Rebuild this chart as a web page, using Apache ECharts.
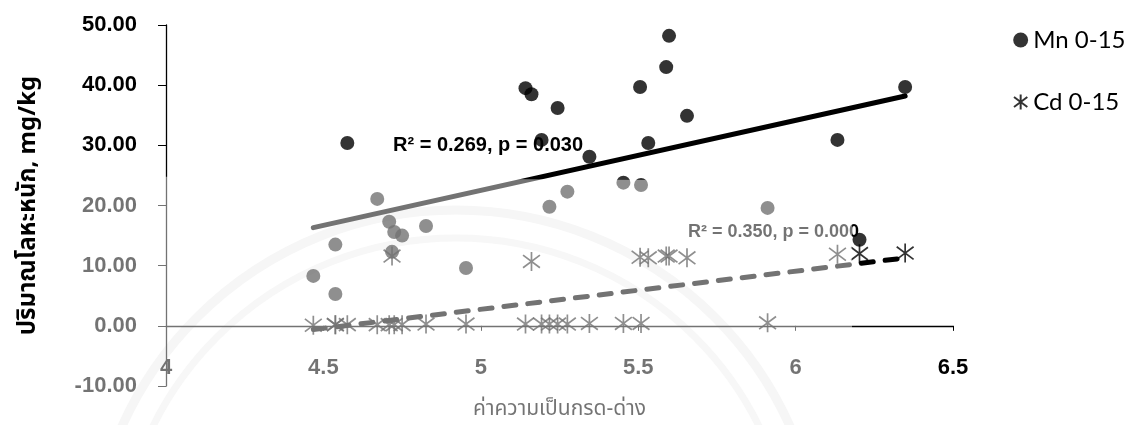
<!DOCTYPE html>
<html>
<head>
<meta charset="utf-8">
<script src="https://cdn.jsdelivr.net/npm/echarts@6/dist/echarts.min.js"></script>
<style>
html,body{margin:0;padding:0;background:#fff;}
#chart{width:1128px;height:425px;}
</style>
</head>
<body>
<div id="chart"></div>
<script>
// pH values (x) of the samples
const phValues = [4.468, 4.538, 4.538, 4.576, 4.671, 4.709, 4.718, 4.725, 4.750, 4.826, 4.953,
  5.142, 5.161, 5.193, 5.218, 5.244, 5.275, 5.345, 5.453, 5.506, 5.509, 5.532, 5.589, 5.598, 5.655,
  5.911, 6.133, 6.203, 6.348];
// Mn 0-15 (mg/kg)
const mnValues = [8.3, 5.3, 13.5, 30.4, 21.1, 17.3, 12.3, 15.6, 15.0, 16.6, 9.6,
  39.5, 38.5, 30.9, 19.8, 36.2, 22.3, 28.1, 23.8, 39.7, 23.4, 30.4, 43.0, 48.2, 34.9,
  19.6, 30.9, 14.3, 39.7];
// Cd 0-15 (mg/kg)
const cdValues = [0.1, 0.2, 0.2, 0.2, 0.2, 0.2, 11.6, 0.2, 0.2, 0.3, 0.3,
  0.3, 10.7, 0.3, 0.3, 0.3, 0.3, 0.4, 0.4, 11.4, 0.4, 11.3, 11.6, 11.6, 11.3,
  0.5, 11.9, 12.0, 12.1];
const seriesNames = ['Mn 0-15', 'Cd 0-15'];
const fitLabels = ['R\u00b2 = 0.269, p = 0.030', 'R\u00b2 = 0.350, p = 0.000'];
const xTickRange = [4, 6.5, 0.5];
const yTickRange = [-10, 50, 10];
const xTitle = 'ค่าความเป็นกรด-ด่าง';
const yTitle = 'ปริมาณโลหะหนัก, mg/kg';

function fit(xs, ys) {
  const n = xs.length;
  const mx = xs.reduce((a, b) => a + b, 0) / n;
  const my = ys.reduce((a, b) => a + b, 0) / n;
  let sxy = 0, sxx = 0;
  for (let i = 0; i < n; i++) { sxy += (xs[i] - mx) * (ys[i] - my); sxx += (xs[i] - mx) * (xs[i] - mx); }
  const b = sxy / sxx, a = my - b * mx;
  const x0 = Math.min(...xs), x1 = Math.max(...xs);
  return [[x0, a + b * x0], [x1, a + b * x1]];
}
const pairs = ys => phValues.map((x, i) => [x, ys[i]]);

const asterisk = 'path://M10,1L10,19M2,4L18,16M18,4L2,16';
const numFont = 'Liberation Sans';
const chart = echarts.init(document.getElementById('chart'));
chart.setOption({
  animation: false,
  backgroundColor: '#fff',
  grid: { left: 166, right: 175, top: 25, bottom: 39, containLabel: false, outerBoundsMode: 'none' },
  legend: {
    orient: 'vertical', left: 1008, top: 23, itemGap: 38, itemWidth: 15, itemHeight: 15,
    textStyle: { fontFamily: 'Lato', fontSize: 24, color: '#000' },
    data: [{ name: seriesNames[0], icon: 'circle' }, { name: seriesNames[1], icon: asterisk }]
  },
  xAxis: {
    type: 'value', min: xTickRange[0], max: xTickRange[1], interval: xTickRange[2],
    name: xTitle, nameLocation: 'middle', nameGap: 14,
    nameTextStyle: { fontFamily: 'Noto Sans Thai, Noto Sans, sans-serif', fontSize: 21, color: '#000' },
    axisLine: { onZero: true, lineStyle: { color: '#000', width: 1.3 } },
    axisTick: { show: true, length: 5, lineStyle: { color: '#000' } },
    axisLabel: { margin: -29, color: '#000', fontSize: 22, fontWeight: 'bold', fontFamily: numFont,
      formatter: v => String(v) },
    splitLine: { show: false }
  },
  yAxis: {
    type: 'value', min: yTickRange[0], max: yTickRange[1], interval: yTickRange[2],
    name: yTitle, nameLocation: 'middle', nameGap: 124, nameRotate: 90,
    nameTextStyle: { fontFamily: 'Noto Sans Thai, Noto Sans, sans-serif', fontSize: 24, fontWeight: 'bold', color: '#000' },
    axisLine: { show: true, lineStyle: { color: '#000', width: 1.3 } },
    axisTick: { show: true, length: 8, lineStyle: { color: '#000' } },
    axisLabel: { margin: 29, color: '#000', fontSize: 22, fontWeight: 'bold', fontFamily: numFont,
      formatter: v => v.toFixed(2) },
    splitLine: { show: false }
  },
  series: [
    { name: seriesNames[0], type: 'scatter', symbol: 'circle', symbolSize: 14, z: 3,
      itemStyle: { color: '#000' }, data: pairs(mnValues) },
    { name: seriesNames[1], type: 'scatter', symbol: asterisk, symbolSize: 19, symbolKeepAspect: true, z: 4,
      itemStyle: { color: 'rgba(0,0,0,0)', borderColor: '#000', borderWidth: 1.7 }, data: pairs(cdValues) },
    { name: 'fitMn', type: 'line', symbol: 'none', z: 5, silent: true,
      lineStyle: { color: '#000', width: 5, cap: 'round' }, data: fit(phValues, mnValues) },
    { name: 'fitCd', type: 'line', symbol: 'none', z: 5, silent: true,
      lineStyle: { color: '#000', width: 5, type: [12, 12], cap: 'round' }, data: fit(phValues, cdValues) }
  ],
  graphic: [
    { type: 'circle', z: -10, silent: true, shape: { cx: 456, cy: 576, r: 366 },
      style: { fill: 'none', stroke: '#eeeeee', lineWidth: 9 } },
    { type: 'circle', z: -10, silent: true, shape: { cx: 456, cy: 576, r: 338 },
      style: { fill: 'none', stroke: '#f0f0f0', lineWidth: 7 } },
    { type: 'text', z: 50, left: 393, top: 135, silent: true,
      style: { text: fitLabels[0], fontFamily: numFont, fontSize: 20, fontWeight: 'bold', fill: '#000' } },
    { type: 'text', z: 50, left: 688, top: 223, silent: true,
      style: { text: fitLabels[1], fontFamily: numFont, fontSize: 18, fontWeight: 'bold', fill: '#000' } },
    { type: 'polygon', z: 100, silent: true,
      shape: { points: [[55, 176], [645, 180], [770, 195], [852, 205], [852, 425], [55, 425]] },
      style: { fill: 'rgba(255,255,255,0.45)' } }
  ]
});
</script>
</body>
</html>
